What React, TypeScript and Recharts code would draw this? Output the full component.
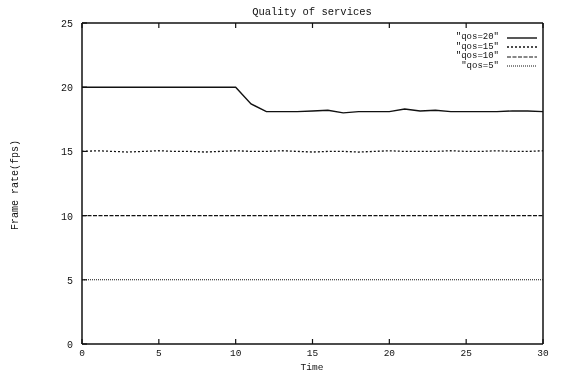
import { Label, Legend, Line, LineChart, XAxis, YAxis } from "recharts";

const time = [0, 1, 2, 3, 4, 5, 6, 7, 8, 9, 10, 11, 12, 13, 14, 15, 16, 17, 18, 19, 20, 21, 22, 23, 24, 25, 26, 27, 28, 29, 30];
const qos20 = [20, 20, 20, 20, 20, 20, 20, 20, 20, 20, 20, 18.7, 18.1, 18.1, 18.1, 18.15, 18.2, 18.0, 18.1, 18.1, 18.1, 18.3, 18.15, 18.2, 18.1, 18.1, 18.1, 18.1, 18.15, 18.15, 18.1];
const qos15 = [15, 15.05, 15, 14.95, 15, 15.05, 15, 15, 14.95, 15, 15.05, 15, 15, 15.05, 15, 14.95, 15, 15, 14.95, 15, 15.05, 15, 15, 15, 15.05, 15, 15, 15.05, 15, 15, 15.05];
const qos10 = [10, 10, 10, 10, 10, 10, 10, 10, 10, 10, 10, 10, 10, 10, 10, 10, 10, 10, 10, 10, 10, 10, 10, 10, 10, 10, 10, 10, 10, 10, 10];
const qos5 = [5, 5, 5, 5, 5, 5, 5, 5, 5, 5, 5, 5, 5, 5, 5, 5, 5, 5, 5, 5, 5, 5, 5, 5, 5, 5, 5, 5, 5, 5, 5];
const xTicks = [0, 5, 10, 15, 20, 25, 30];
const yTicks = [0, 5, 10, 15, 20, 25];

const data = time.map((t, i) => ({
  t,
  q20: qos20[i],
  q15: qos15[i],
  q10: qos10[i],
  q5: qos5[i],
}));

const series = [
  { key: "q20", name: '"qos=20"', dash: undefined, width: 1.4 },
  { key: "q15", name: '"qos=15"', dash: "2 2", width: 1.3 },
  { key: "q10", name: '"qos=10"', dash: "4 1.5", width: 1.2 },
  { key: "q5", name: '"qos=5"', dash: "1 1", width: 1.1 },
];

const FONT = "'Liberation Mono', 'DejaVu Sans Mono', monospace";
const INK = "#111";

const BottomTick = (props: any) => {
  const { x, y, payload } = props;
  return (
    <g>
      <line x1={x} x2={x} y1={y} y2={y - 5} stroke={INK} strokeWidth={1.2} />
      <text x={x} y={y + 12} textAnchor="middle" fontFamily={FONT} fontSize={9.5} fill={INK}>
        {payload.value}
      </text>
    </g>
  );
};

const TopTick = (props: any) => {
  const { x, y } = props;
  return <line x1={x} x2={x} y1={y} y2={y + 5} stroke={INK} strokeWidth={1.2} />;
};

const LeftTick = (props: any) => {
  const { x, y, payload } = props;
  return (
    <g>
      <line x1={x} x2={x + 5} y1={y} y2={y} stroke={INK} strokeWidth={1.2} />
      <text x={x - 9} y={y + 4} textAnchor="end" fontFamily={FONT} fontSize={10} fill={INK}>
        {payload.value}
      </text>
    </g>
  );
};

const RightTick = (props: any) => {
  const { x, y } = props;
  return <line x1={x} x2={x - 5} y1={y} y2={y} stroke={INK} strokeWidth={1.2} />;
};

const LegendBox = () => (
  <div style={{ fontFamily: FONT, fontSize: 9, color: INK, lineHeight: "9.5px" }}>
    {series.map((s) => (
      <div key={s.key} style={{ display: "flex", justifyContent: "flex-end", alignItems: "center", height: 9.5 }}>
        <span style={{ whiteSpace: "pre" }}>{s.name}</span>
        <svg width={40} height={8}>
          <line x1={8} x2={38} y1={4} y2={4} stroke={INK} strokeWidth={s.width} strokeDasharray={s.dash} />
        </svg>
      </div>
    ))}
  </div>
);

export default function App() {
  return (
    <div style={{ position: "fixed", left: 0, top: 0, width: 561, height: 373, background: "#fff" }}>
      <div
        style={{
          position: "absolute",
          top: 6,
          left: 0,
          width: 624,
          textAlign: "center",
          fontFamily: FONT,
          fontSize: 10.5,
          color: INK,
        }}
      >
        Quality of services
      </div>
      <LineChart width={561} height={373} data={data} margin={{ top: 22, right: 17, left: 0, bottom: 0 }}>
        <XAxis
          xAxisId="b"
          dataKey="t"
          type="number"
          domain={[0, 30]}
          ticks={xTicks}
          height={29}
          tickSize={0}
          tickMargin={0}
          tick={<BottomTick />}
          axisLine={{ stroke: INK, strokeWidth: 1.5 }}
          interval={0}
        >
          <Label
            content={() => (
              <text x={312} y={370} textAnchor="middle" fontFamily={FONT} fontSize={9.5} fill={INK}>
                Time
              </text>
            )}
          />
        </XAxis>
        <XAxis
          xAxisId="t"
          dataKey="t"
          type="number"
          orientation="top"
          domain={[0, 30]}
          ticks={xTicks}
          height={1}
          tickSize={0}
          tickMargin={0}
          tick={<TopTick />}
          axisLine={{ stroke: INK, strokeWidth: 1.5 }}
          interval={0}
        />
        <YAxis
          yAxisId="l"
          type="number"
          domain={[0, 25]}
          ticks={yTicks}
          width={82}
          tickSize={0}
          tickMargin={0}
          tick={<LeftTick />}
          axisLine={{ stroke: INK, strokeWidth: 1.5 }}
          interval={0}
        >
          <Label
            content={() => (
              <text
                x={18}
                y={185}
                transform="rotate(-90 18 185)"
                textAnchor="middle"
                fontFamily={FONT}
                fontSize={10}
                fill={INK}
              >
                Frame rate(fps)
              </text>
            )}
          />
        </YAxis>
        <YAxis
          yAxisId="r"
          type="number"
          orientation="right"
          domain={[0, 25]}
          ticks={yTicks}
          width={1}
          tickSize={0}
          tickMargin={0}
          tick={<RightTick />}
          axisLine={{ stroke: INK, strokeWidth: 1.5 }}
          interval={0}
        />
        <Legend
          layout="vertical"
          align="center"
          verticalAlign="middle"
          content={<LegendBox />}
          wrapperStyle={{ position: "absolute", top: 33, left: 340, width: 199, height: 40 }}
        />
        {series.map((s) => (
          <Line
            key={s.key}
            xAxisId="b"
            yAxisId="l"
            type="linear"
            dataKey={s.key}
            name={s.name}
            stroke={INK}
            strokeWidth={s.width}
            strokeDasharray={s.dash}
            dot={false}
            activeDot={false}
            isAnimationActive={false}
          />
        ))}
      </LineChart>
    </div>
  );
}
